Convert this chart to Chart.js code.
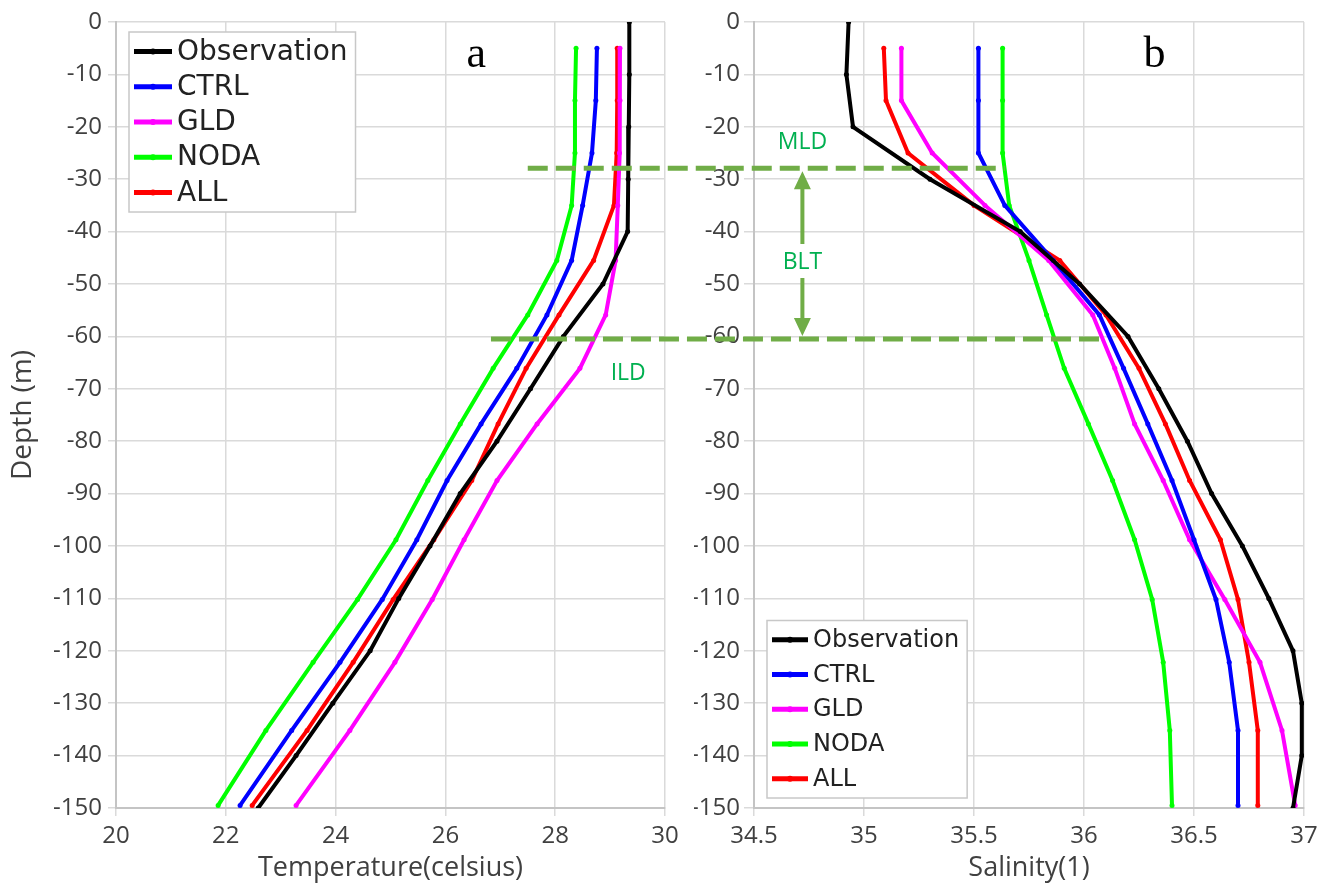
<!DOCTYPE html>
<html>
<head>
<meta charset="utf-8">
<script src="https://cdn.jsdelivr.net/npm/chart.js@4.4.1/dist/chart.umd.min.js"></script>
<style>
  html, body { margin: 0; padding: 0; background: #fff; }
  #wrap { position: relative; width: 1335px; height: 891px; }
  canvas { position: absolute; left: 0; top: 0; }
</style>
</head>
<body>
<div id="wrap">
  <canvas id="tempChart" width="1335" height="891"></canvas>
  <canvas id="salChart" width="1335" height="891"></canvas>
</div>
<script>
// depths (m, negative downwards)
const obsDepth = [0, -10, -20, -30, -40, -50, -60, -70, -80, -90, -100, -110, -120, -130, -140, -150];
const modelDepth = [-5, -15, -25, -35, -45.5, -55.9, -66.1, -76.7, -87.5, -98.8, -110.2, -122.2, -135.2, -149.5];

// temperature (celsius)
const obsTemp  = [29.35, 29.35, 29.34, 29.33, 29.32, 28.87, 28.15, 27.55, 26.94, 26.27, 25.72, 25.15, 24.63, 23.95, 23.28, 22.59];
const ctrlTemp = [28.76, 28.74, 28.67, 28.5, 28.3, 27.85, 27.3, 26.65, 26.03, 25.48, 24.85, 24.08, 23.2, 22.26];
const gldTemp  = [29.18, 29.18, 29.17, 29.14, 29.1, 28.92, 28.45, 27.67, 26.94, 26.34, 25.76, 25.08, 24.26, 23.28];
const nodaTemp = [28.38, 28.36, 28.36, 28.3, 28.03, 27.5, 26.87, 26.27, 25.68, 25.1, 24.4, 23.59, 22.73, 21.86];
const allTemp  = [29.13, 29.13, 29.12, 29.07, 28.7, 28.07, 27.47, 26.96, 26.48, 25.79, 25.05, 24.32, 23.48, 22.48];

// salinity
const obsSal  = [34.93, 34.92, 34.95, 35.3, 35.71, 35.98, 36.2, 36.34, 36.47, 36.58, 36.72, 36.84, 36.95, 36.99, 36.99, 36.95];
const ctrlSal = [35.52, 35.52, 35.52, 35.64, 35.86, 36.07, 36.18, 36.29, 36.4, 36.5, 36.6, 36.66, 36.7, 36.7];
const gldSal  = [35.17, 35.17, 35.31, 35.55, 35.84, 36.04, 36.14, 36.23, 36.36, 36.48, 36.64, 36.8, 36.9, 36.96];
const nodaSal = [35.63, 35.63, 35.63, 35.66, 35.75, 35.83, 35.91, 36.02, 36.13, 36.23, 36.31, 36.36, 36.39, 36.4];
const allSal  = [35.09, 35.1, 35.2, 35.5, 35.89, 36.1, 36.25, 36.37, 36.48, 36.62, 36.7, 36.75, 36.79, 36.79];

const seriesNames  = ['Observation', 'CTRL', 'GLD', 'NODA', 'ALL'];
const seriesColors = ['#000000', '#0000ff', '#ff00ff', '#00ff00', '#ff0000'];

// layer markers
const mldDepth = -27.9, ildDepth = -60.5;
const mldFromTemp = 27.5, mldToSal = 35.64;
const ildFromTemp = 26.83, ildToSal = 36.09;
const bltSal = 34.72;

Chart.defaults.font.family = '"Open Sans", sans-serif';
Chart.defaults.color = '#404040';

function pairs(xs, ys) {
    return xs.map((v, i) => ({ x: v, y: ys[i] }));
}

function makeSets(values) {
    return values.map((vals, i) => ({
        label: seriesNames[i],
        data: pairs(vals, i === 0 ? obsDepth : modelDepth),
        borderColor: seriesColors[i],
        backgroundColor: seriesColors[i],
        borderWidth: 4,
        pointRadius: 2.5,
        pointHoverRadius: 2.5,
        pointBorderWidth: 0,
        showLine: true,
        tension: 0
    }));
}

// legend box drawn inside the plot area
const boxLegend = {
    id: 'boxLegend',
    afterDatasetsDraw(chart, args, opts) {
        const { ctx, chartArea } = chart;
        const sets = chart.data.datasets;
        ctx.save();
        ctx.font = opts.size + 'px "DejaVu Sans"';
        let w = 0;
        sets.forEach(d => { w = Math.max(w, ctx.measureText(d.label).width); });
        const boxW = 5 + opts.sample + 5 + w + 8;
        const boxH = opts.row * sets.length + 4;
        const x0 = chartArea.left + opts.dx;
        const y0 = opts.bottom ? chartArea.bottom - opts.dy - boxH : chartArea.top + opts.dy;
        ctx.fillStyle = '#fff';
        ctx.fillRect(x0, y0, boxW, boxH);
        ctx.strokeStyle = '#c8c8c8';
        ctx.lineWidth = 1.5;
        ctx.strokeRect(x0, y0, boxW, boxH);
        sets.forEach((d, i) => {
            const cy = y0 + 2 + opts.row * (i + 0.5);
            ctx.strokeStyle = d.borderColor;
            ctx.lineWidth = 5;
            ctx.beginPath();
            ctx.moveTo(x0 + 5, cy);
            ctx.lineTo(x0 + 5 + opts.sample, cy);
            ctx.stroke();
            ctx.fillStyle = d.borderColor;
            ctx.beginPath();
            ctx.arc(x0 + 5 + opts.sample / 2, cy, 3, 0, Math.PI * 2);
            ctx.fill();
            ctx.fillStyle = '#222';
            ctx.textBaseline = 'middle';
            ctx.fillText(d.label, x0 + 10 + opts.sample, cy + 1);
        });
        ctx.restore();
    }
};

// panel letter
const panelTag = {
    id: 'panelTag',
    afterDraw(chart, args, opts) {
        const { ctx, scales } = chart;
        ctx.save();
        ctx.font = '44px "Liberation Serif"';
        ctx.fillStyle = '#000';
        ctx.textAlign = 'center';
        ctx.textBaseline = 'alphabetic';
        ctx.fillText(opts.text, scales.x.getPixelForValue(opts.x), scales.y.getPixelForValue(opts.y));
        ctx.restore();
    }
};

function axisOpts(min, max, step, title, yWidth, yTitle) {
    return {
        x: {
            type: 'linear', min, max,
            ticks: { stepSize: step, padding: 6, font: { size: 24 }, maxRotation: 0,
                     callback: v => String(v) },
            grid: { color: '#dadada', lineWidth: 1.5, tickLength: 8 },
            border: { color: '#c4c4c4', width: 2 },
            title: { display: true, text: title, font: { size: 27 }, padding: { top: 0, bottom: 6 } },
            afterFit(s) { s.height = 83; }
        },
        y: {
            type: 'linear', min: -150, max: 0,
            ticks: { stepSize: 10, padding: yTitle ? 6 : 4, font: { size: 24 },
                     callback: v => String(v) },
            grid: { color: '#dadada', lineWidth: 1.5, tickLength: yTitle ? 8 : 10 },
            border: { color: '#c4c4c4', width: 2 },
            title: { display: !!yTitle, text: yTitle || '', font: { size: 28 }, padding: { top: 6, bottom: 0 } },
            afterFit(s) { s.width = yWidth; }
        }
    };
}

const tempChart = new Chart(document.getElementById('tempChart'), {
    type: 'scatter',
    data: { datasets: makeSets([obsTemp, ctrlTemp, gldTemp, nodaTemp, allTemp]) },
    options: {
        responsive: false,
        animation: false,
        layout: { padding: { left: 0, right: 670, top: 22, bottom: 0 } },
        scales: axisOpts(20, 30, 2, 'Temperature(celsius)', 116, 'Depth (m)'),
        plugins: {
            legend: { display: false },
            tooltip: { enabled: false },
            boxLegend: { size: 28, row: 35.2, sample: 38, dx: 13, dy: 10, bottom: false },
            panelTag: { text: 'a', x: 26.56, y: -8.6 }
        }
    },
    plugins: [boxLegend, panelTag]
});

// MLD / ILD lines, BLT arrow and labels across both panels
const layerMarks = {
    id: 'layerMarks',
    afterDraw(chart) {
        const { ctx } = chart;
        const t = tempChart.scales, s = chart.scales;
        const yM = s.y.getPixelForValue(mldDepth);
        const yI = s.y.getPixelForValue(ildDepth);
        ctx.save();
        ctx.strokeStyle = '#70ad47';
        ctx.lineWidth = 5;
        ctx.setLineDash([20, 8]);
        ctx.beginPath();
        ctx.moveTo(t.x.getPixelForValue(mldFromTemp), yM);
        ctx.lineTo(s.x.getPixelForValue(mldToSal), yM);
        ctx.moveTo(t.x.getPixelForValue(ildFromTemp), yI);
        ctx.lineTo(s.x.getPixelForValue(ildToSal), yI);
        ctx.stroke();
        ctx.setLineDash([]);

        const ax = s.x.getPixelForValue(bltSal);
        const yText = s.y.getPixelForValue(-45.8);
        const top = yM + 3, bot = yI - 3;
        ctx.lineWidth = 4;
        ctx.beginPath();
        ctx.moveTo(ax, top + 16);
        ctx.lineTo(ax, yText - 18);
        ctx.moveTo(ax, yText + 16);
        ctx.lineTo(ax, bot - 16);
        ctx.stroke();
        ctx.fillStyle = '#70ad47';
        ctx.beginPath();
        ctx.moveTo(ax, top);
        ctx.lineTo(ax - 8.5, top + 18);
        ctx.lineTo(ax + 8.5, top + 18);
        ctx.closePath();
        ctx.moveTo(ax, bot);
        ctx.lineTo(ax - 8.5, bot - 18);
        ctx.lineTo(ax + 8.5, bot - 18);
        ctx.closePath();
        ctx.fill();

        ctx.font = '23px "Open Sans"';
        ctx.fillStyle = '#00b050';
        ctx.textAlign = 'center';
        ctx.textBaseline = 'middle';
        ctx.fillText('MLD', ax, s.y.getPixelForValue(-22.9));
        ctx.fillText('BLT', ax, yText);
        ctx.fillText('ILD', t.x.getPixelForValue(29.33), t.y.getPixelForValue(-67));
        ctx.restore();
    }
};

new Chart(document.getElementById('salChart'), {
    type: 'scatter',
    data: { datasets: makeSets([obsSal, ctrlSal, gldSal, nodaSal, allSal]) },
    options: {
        responsive: false,
        animation: false,
        layout: { padding: { left: 694, right: 31, top: 22, bottom: 0 } },
        scales: axisOpts(34.5, 37, 0.5, 'Salinity(1)', 60, null),
        plugins: {
            legend: { display: false },
            tooltip: { enabled: false },
            boxLegend: { size: 24, row: 34.7, sample: 36, dx: 13, dy: 10, bottom: true },
            panelTag: { text: 'b', x: 36.32, y: -8.6 }
        }
    },
    plugins: [boxLegend, panelTag, layerMarks]
});
</script>
</body>
</html>
